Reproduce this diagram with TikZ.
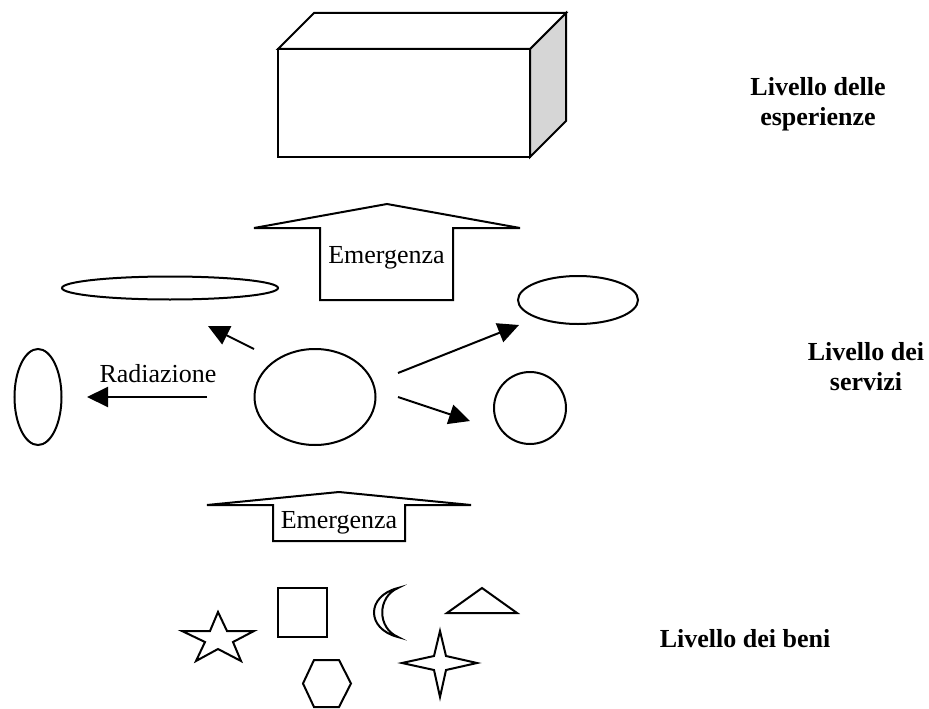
\documentclass[tikz,border=0pt]{standalone}
\usepackage{fontspec}
\setmainfont{Liberation Serif}
\usetikzlibrary{arrows.meta,shapes.geometric}

\begin{document}
\begin{tikzpicture}[x=1pt,y=-1pt,
  line width=2pt, line join=miter,
  outline/.style={draw, line width=2pt, inner sep=0pt},
  flow/.style={line width=2pt, -{Triangle[length=21pt,width=20pt]}},
  lbl/.style={font=\fontsize{26}{30}\selectfont\bfseries, align=center},
  txt/.style={font=\fontsize{26}{30}\selectfont, inner sep=0pt}
]
\definecolor{sideface}{RGB}{214,214,214}
\useasboundingbox (0,0) rectangle (929,709);

% experience level: the box
\draw[fill=sideface] (530,49) -- (566,13) -- (566,121) -- (530,157) -- cycle;
\draw[fill=white] (278,49) -- (314,13) -- (566,13) -- (530,49) -- cycle;
\draw[fill=white] (278,49) rectangle (530,157);

% upper emergence arrow
\draw (320,300) -- (320,228) -- (254,228) -- (387,204) -- (520,228)
      -- (453,228) -- (453,300) -- cycle;
\node[txt, anchor=base] (em1) at (386.5,263) {Emergenza};

% services level
\node[outline, ellipse, minimum width=216pt, minimum height=23pt] (flat) at (170,288) {};
\node[outline, ellipse, minimum width=47pt, minimum height=96pt] (tall) at (38,397) {};
\node[outline, ellipse, minimum width=121pt, minimum height=96pt] (core) at (315,397) {};
\node[outline, ellipse, minimum width=120pt, minimum height=48pt] (oval) at (578,300) {};
\node[outline, circle, minimum size=72pt] (round) at (530,408) {};

\coordinate (r1) at (207,397);  \coordinate (r2) at (87,397);
\coordinate (u1) at (254,349);  \coordinate (u2) at (208,326);
\coordinate (a1) at (398,373);  \coordinate (a2) at (519,325);
\coordinate (b1) at (398,397);  \coordinate (b2) at (470,421);
\draw[flow] (r1) -- (r2);
\draw[flow] (u1) -- (u2);
\draw[flow] (a1) -- (a2);
\draw[flow] (b1) -- (b2);
\node[txt, anchor=base] (rad) at (158,382) {Radiazione};

% lower emergence arrow
\draw (273,541) -- (273,505) -- (207,505) -- (339,492) -- (471,505)
      -- (405,505) -- (405,541) -- cycle;
\node[txt, anchor=base] (em2) at (339,528) {Emergenza};

% goods level: small shapes
\draw (218,612) -- (227,631) -- (254,631) -- (233,642) -- (241,661)
      -- (218,649) -- (196,661) -- (205,642) -- (182,631) -- (210,631) -- cycle;
\draw (278,588) rectangle (327,637);
\draw (398,588) .. controls (366,596) and (366,629) .. (398,637)
      .. controls (377,628) and (377,597) .. (398,588) -- cycle;
\draw (447,613) -- (482,588) -- (517,613) -- cycle;
\draw (440,631) -- (446,656) -- (477,663) -- (446,670) -- (440,697)
      -- (434,670) -- (402,663) -- (434,656) -- cycle;
\draw (314,660) -- (339,660) -- (351,683.5) -- (339,707) -- (314,707)
      -- (303,683.5) -- cycle;

% level labels (base anchor sits on the last line)
\node[lbl, anchor=base] (lexp) at (818,125) {Livello delle\\esperienze};
\node[lbl, anchor=base] (lser) at (866,390) {Livello dei\\servizi};
\node[lbl, anchor=base] (lgood) at (745,647) {Livello dei beni};
\end{tikzpicture}
\end{document}
